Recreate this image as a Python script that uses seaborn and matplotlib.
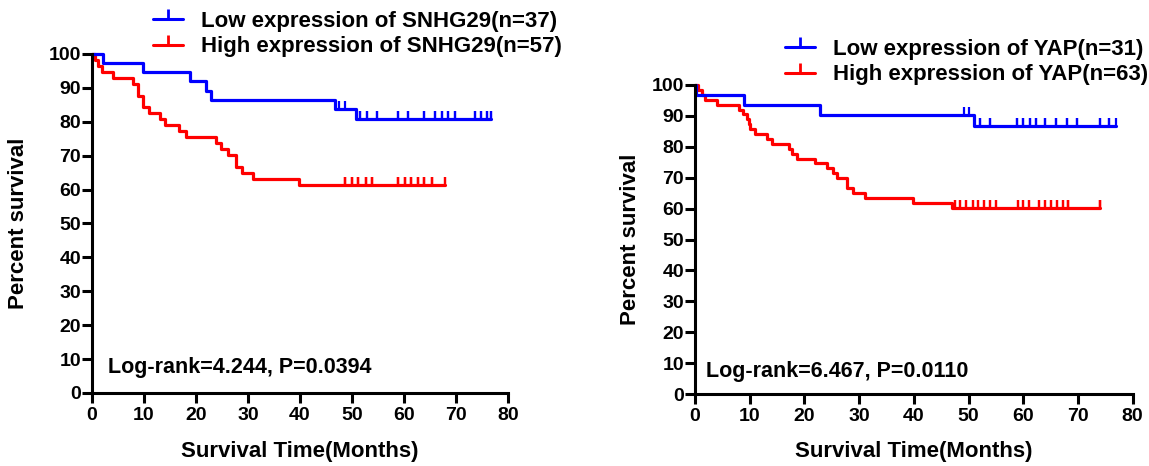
#===========================================
# Kaplan-Meier survival curves
# SNHG29 and YAP expression
#===========================================

import numpy as np
import pandas as pd
import matplotlib
matplotlib.use("Agg")
import matplotlib.pyplot as plt
from matplotlib.lines import Line2D
import seaborn as sns

# -----------------------------------------
# Data (months)
# -----------------------------------------

# SNHG29 low (n=37)
snhg_low_events = [2.2, 9.8, 18.8, 22.0, 22.9, 46.7, 50.7]
snhg_low_censored = [47.5, 48.7,
                     51.6, 51.6, 52.9, 52.9, 54.8, 54.8, 58.8, 58.8,
                     60.7, 60.7, 63.9, 63.9, 66.0, 66.0, 67.3, 67.3,
                     68.4, 68.4, 69.7, 69.7, 73.6, 73.6, 74.8, 74.8,
                     75.9, 75.9, 76.8, 76.8]

# SNHG29 high (n=57)
snhg_high_events = [0.6, 1.2, 2.0, 4.0, 7.9, 8.9, 8.9, 9.8, 9.8, 11.0,
                    13.0, 14.0, 16.8, 18.0, 23.9, 24.8, 26.1, 27.7, 27.7,
                    28.8, 30.9, 39.8]
snhg_high_censored = [48.7, 48.7, 48.7, 50.0, 50.0, 50.0, 51.2, 51.2, 51.2,
                      52.6, 52.6, 52.6, 53.8, 53.8, 53.8, 58.8, 58.8, 58.8,
                      60.1, 60.1, 60.1, 61.4, 61.4, 61.4, 62.6, 62.6, 62.6,
                      63.9, 63.9, 63.9, 65.3, 65.3, 65.3, 67.9, 67.9]

# YAP low (n=31)
yap_low_events = [0.2, 9.0, 22.9, 51.0]
yap_low_censored = [49.1, 50.0,
                    52.1, 52.1, 53.9, 53.9, 58.9, 58.9, 60.0, 60.0,
                    61.2, 61.2, 62.3, 62.3, 64.0, 64.0, 66.0, 66.0,
                    68.0, 68.0, 69.8, 69.8, 74.0, 74.0, 75.6, 75.6, 77.0]

# YAP high (n=63)
yap_high_events = [0.6, 1.2, 1.8, 4.0, 8.1, 8.8, 9.5, 9.8, 10.1, 11.0,
                   13.1, 14.0, 17.1, 17.7, 18.6, 21.9, 24.1, 25.2, 25.9,
                   27.7, 27.7, 28.9, 31.1, 39.9, 46.9]
yap_high_censored = [47.5, 47.5, 48.4, 48.4, 49.5, 49.5, 50.8, 50.8,
                     51.8, 51.8, 52.8, 52.8, 53.9, 53.9, 55.0, 55.0,
                     59.1, 59.1, 60.0, 60.0, 61.1, 61.1, 62.9, 62.9,
                     64.0, 64.0, 65.0, 65.0, 66.1, 66.1, 67.2, 67.2,
                     68.2, 68.2, 68.2, 74.0, 74.0, 74.0]

snhg_labels = ["Low expression of SNHG29(n=37)", "High expression of SNHG29(n=57)"]
yap_labels = ["Low expression of YAP(n=31)", "High expression of YAP(n=63)"]
snhg_stat = "Log-rank=4.244, P=0.0394"
yap_stat = "Log-rank=6.467, P=0.0110"

BLUE = "#0000FF"
RED = "#FF0000"

# Style
sns.set_style("ticks")
plt.rcParams["font.family"] = ["Liberation Sans", "DejaVu Sans"]
plt.rcParams["font.weight"] = "bold"
plt.rcParams["axes.labelweight"] = "bold"
plt.rcParams["text.color"] = "black"
plt.rcParams["axes.labelcolor"] = "black"
plt.rcParams["xtick.color"] = "black"
plt.rcParams["ytick.color"] = "black"
plt.rcParams["xtick.labelcolor"] = "black"
plt.rcParams["ytick.labelcolor"] = "black"


def km_curve(events, censored):
    ev = np.array(events)
    ce = np.array(censored)
    xs, ys, s = [0.0], [100.0], 100.0
    for t in sorted(set(events)):
        at_risk = (ev >= t).sum() + (ce >= t).sum()
        d = (ev == t).sum()
        s = s * (1 - d / at_risk)
        xs.append(t)
        ys.append(s)
    ev_t = np.array(xs[1:])
    xs.append(max(ev.max(), ce.max()))
    ys.append(s)
    steps = pd.DataFrame({"time": xs, "surv": ys})
    idx = np.searchsorted(ev_t, ce, side="right")
    marks = pd.DataFrame({"time": ce, "surv": np.array(ys)[idx]})
    return steps, marks


def draw_panel(ax, groups, labels, stat, stat_xy, leg_xy):
    for (events, censored), color in groups:
        steps, marks = km_curve(events, censored)
        sns.lineplot(data=steps, x="time", y="surv", drawstyle="steps-post",
                     estimator=None, sort=False, color=color, linewidth=2.3,
                     clip_on=False, ax=ax)
        ax.plot(marks["time"], marks["surv"], linestyle="none", marker=2,
                markersize=6, mew=1.6, color=color, clip_on=False)

    ax.set_xlim(0, 80)
    ax.set_ylim(0, 100)
    ax.set_xticks(range(0, 81, 10))
    ax.set_yticks(range(0, 101, 10))
    sns.despine(ax=ax)
    for sp in ["left", "bottom"]:
        ax.spines[sp].set_linewidth(2.2)
        ax.spines[sp].set_color("black")
    ax.tick_params(axis="both", direction="out", length=7, width=2.2,
                   labelsize=14, color="black", labelcolor="black")
    ax.tick_params(axis="y", pad=1)
    ax.tick_params(axis="x", pad=3)
    ax.set_xlabel("Survival Time(Months)", fontsize=16, color="black")
    ax.set_ylabel("Percent survival", fontsize=16, color="black")

    ax.text(stat_xy[0], stat_xy[1], stat, transform=ax.figure.transFigure,
            fontsize=15.5, fontweight="bold", va="center", ha="left",
            color="black")

    handles = [Line2D([], [], color=BLUE, lw=2.2, marker=2, markersize=7, mew=2),
               Line2D([], [], color=RED, lw=2.2, marker=2, markersize=7, mew=2)]
    leg = ax.legend(handles, labels, loc="upper left", bbox_to_anchor=leg_xy,
                    bbox_transform=ax.figure.transFigure, frameon=False,
                    fontsize=16, borderpad=0, borderaxespad=0,
                    handlelength=1.35, handletextpad=0.8, labelspacing=0.2)
    for t in leg.get_texts():
        t.set_color("black")


fig = plt.figure(figsize=(11.49, 4.66), dpi=100)
ax1 = fig.add_axes([0.0801, 0.1567, 0.3621, 0.7275])
ax2 = fig.add_axes([0.6049, 0.1545, 0.3809, 0.6631])

# -----------------------------------------
# 1. SNHG29
# -----------------------------------------
draw_panel(ax1,
           [((snhg_high_events, snhg_high_censored), RED),
            ((snhg_low_events, snhg_low_censored), BLUE)],
           snhg_labels, snhg_stat,
           (108 / 1149, 1 - 368 / 466), (153 / 1149, 1 - 11 / 466))
ax1.yaxis.set_label_coords(-0.151, 0.5)
ax1.xaxis.set_label_coords(0.5, -0.142)

# -----------------------------------------
# 2. YAP
# -----------------------------------------
draw_panel(ax2,
           [((yap_high_events, yap_high_censored), RED),
            ((yap_low_events, yap_low_censored), BLUE)],
           yap_labels, yap_stat,
           (706 / 1149, 1 - 371 / 466), (785 / 1149, 1 - 39 / 466))
ax2.yaxis.set_label_coords(-0.123, 0.5)
ax2.xaxis.set_label_coords(0.5, -0.152)

fig.savefig("out.png", dpi=100)
